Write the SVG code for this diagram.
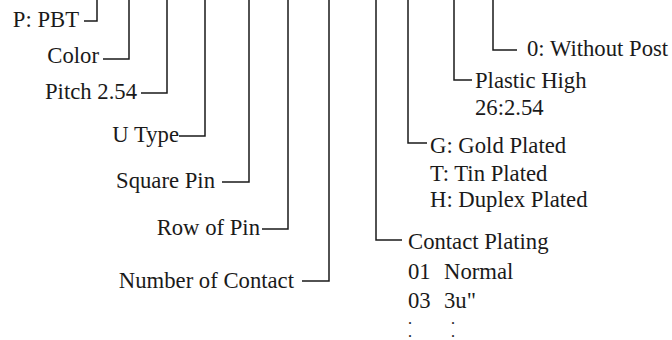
<svg xmlns="http://www.w3.org/2000/svg" width="672" height="340" viewBox="0 0 672 340">
<style>
text{font-family:"Liberation Serif","Times New Roman",serif;font-size:22.7px;fill:#1a1a1a}
.e{text-anchor:end}
.d{font-size:12px;font-weight:bold}
.c{fill:none;stroke:#1a1a1a;stroke-width:1.5}
</style>
<rect width="672" height="340" fill="#fff"/>
<g id="connectors">
<path class="c" d="M97,0V21H84"/>
<path class="c" d="M129,0V59H103"/>
<path class="c" d="M167,0V93H141"/>
<path class="c" d="M205,0V136H179"/>
<path class="c" d="M249,0V182H222"/>
<path class="c" d="M288,0V229H262"/>
<path class="c" d="M329,0V281H302"/>
<path class="c" d="M376,0V240H402"/>
<path class="c" d="M408,0V143H427"/>
<path class="c" d="M454,0V80H472"/>
<path class="c" d="M493,0V50H517"/>
</g>
<g id="material"><text class="e" x="79" y="27">P: PBT</text></g>
<g id="color"><text class="e" x="99" y="63">Color</text></g>
<g id="pitch"><text class="e" x="137" y="99">Pitch 2.54</text></g>
<g id="utype"><text class="e" x="179" y="142">U Type</text></g>
<g id="squarepin"><text class="e" x="215" y="188">Square Pin</text></g>
<g id="rowofpin"><text class="e" x="260" y="235">Row of Pin</text></g>
<g id="numberofcontact"><text class="e" x="294" y="288">Number of Contact</text></g>
<g id="post"><text x="527" y="56">0: Without Post</text></g>
<g id="plastichigh"><text x="475" y="88">Plastic High</text><text x="475" y="115">26:2.54</text></g>
<g id="plating"><text x="430" y="153">G: Gold Plated</text><text x="430" y="181">T: Tin Plated</text><text x="430" y="207">H: Duplex Plated</text></g>
<g id="contactplating"><text x="408" y="249">Contact Plating</text>
<text x="408" y="279">01</text><text x="444" y="279">Normal</text>
<text x="408" y="308">03</text><text x="444" y="308">3u"</text>
<text class="d" x="408.5" y="324">.</text><text class="d" x="451.5" y="324">.</text>
<text class="d" x="408.5" y="337">.</text><text class="d" x="451.5" y="337">.</text>
</g>
</svg>
